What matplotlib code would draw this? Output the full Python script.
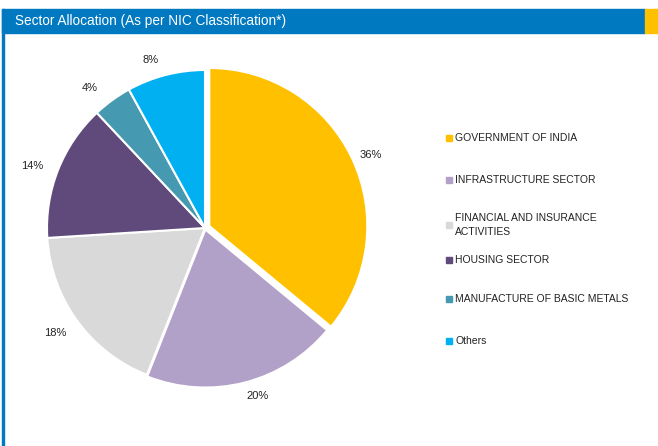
import matplotlib
matplotlib.use("Agg")
import numpy as np
import matplotlib.pyplot as plt
from matplotlib.patches import Rectangle

plt.rcParams['font.family'] = ['Liberation Sans', 'DejaVu Sans']

# data
sectors = ['GOVERNMENT OF INDIA', 'INFRASTRUCTURE SECTOR',
           'FINANCIAL AND INSURANCE\nACTIVITIES', 'HOUSING SECTOR',
           'MANUFACTURE OF BASIC METALS', 'Others']
shares = [36, 20, 18, 14, 4, 8]
colors = ['#FFC000', '#B1A0C7', '#D9D9D9', '#604A7B', '#4599B0', '#00B0F0']
title = 'Sector Allocation (As per NIC Classification*)'

W, H = 658, 446
fig = plt.figure(figsize=(W / 100, H / 100), dpi=100)

# header bar, yellow tab and left border
fig.patches.append(Rectangle((2 / W, (H - 33) / H), 643 / W, 24 / H,
                             transform=fig.transFigure, color='#0079C1'))
fig.patches.append(Rectangle((645 / W, (H - 33) / H), 13 / W, 24 / H,
                             transform=fig.transFigure, color='#FFC000'))
fig.patches.append(Rectangle((2 / W, 0), 2 / W, (H - 9) / H,
                             transform=fig.transFigure, color='#0079C1'))
fig.text(15 / W, (H - 21) / H, title, color='white', fontsize=9.8,
         va='center', ha='left')

# pie
cx, cy, R = 205, H - 228, 158
box = 162
ax = fig.add_axes([(cx - box) / W, (cy - box) / H, 2 * box / W, 2 * box / H])
explode = [0.03, 0.01, 0, 0, 0, 0]
wedges, texts = ax.pie(shares, colors=colors, startangle=90,
                       counterclock=False, explode=explode,
                       labels=[f'{v}%' for v in shares], labeldistance=1.0,
                       wedgeprops=dict(edgecolor='white', linewidth=1.5),
                       textprops=dict(fontsize=8, color='#222222'))
# "best fit" placement of the percentage labels: radius factor, angle nudge
label_dist = [1.148, 1.115, 1.159, 1.163, 1.147, 1.119]
label_turn = [-1.5, 3.1, -1.0, 1.9, 3.4, 3.7]
for t, d, a in zip(texts, label_dist, label_turn):
    x, y = t.get_position()
    ang = np.arctan2(y, x) + np.radians(a)
    t.set_position((d * np.cos(ang), d * np.sin(ang)))
    t.set_ha('center')
    t.set_va('center')
lim = box / R
ax.set_xlim(-lim, lim)
ax.set_ylim(-lim, lim)
ax.set_aspect('equal')
ax.axis('off')

# legend
legend_y = [138, 180, 225, 260, 299, 341]
for name, col, y in zip(sectors, colors, legend_y):
    fig.patches.append(Rectangle((446 / W, (H - y - 3) / H), 6 / W, 6 / H,
                                 transform=fig.transFigure, color=col))
    fig.text(455 / W, (H - y) / H, name, fontsize=7.5, color='#222222',
             va='center', ha='left', linespacing=1.45)

fig.savefig('out.png', dpi=100)
